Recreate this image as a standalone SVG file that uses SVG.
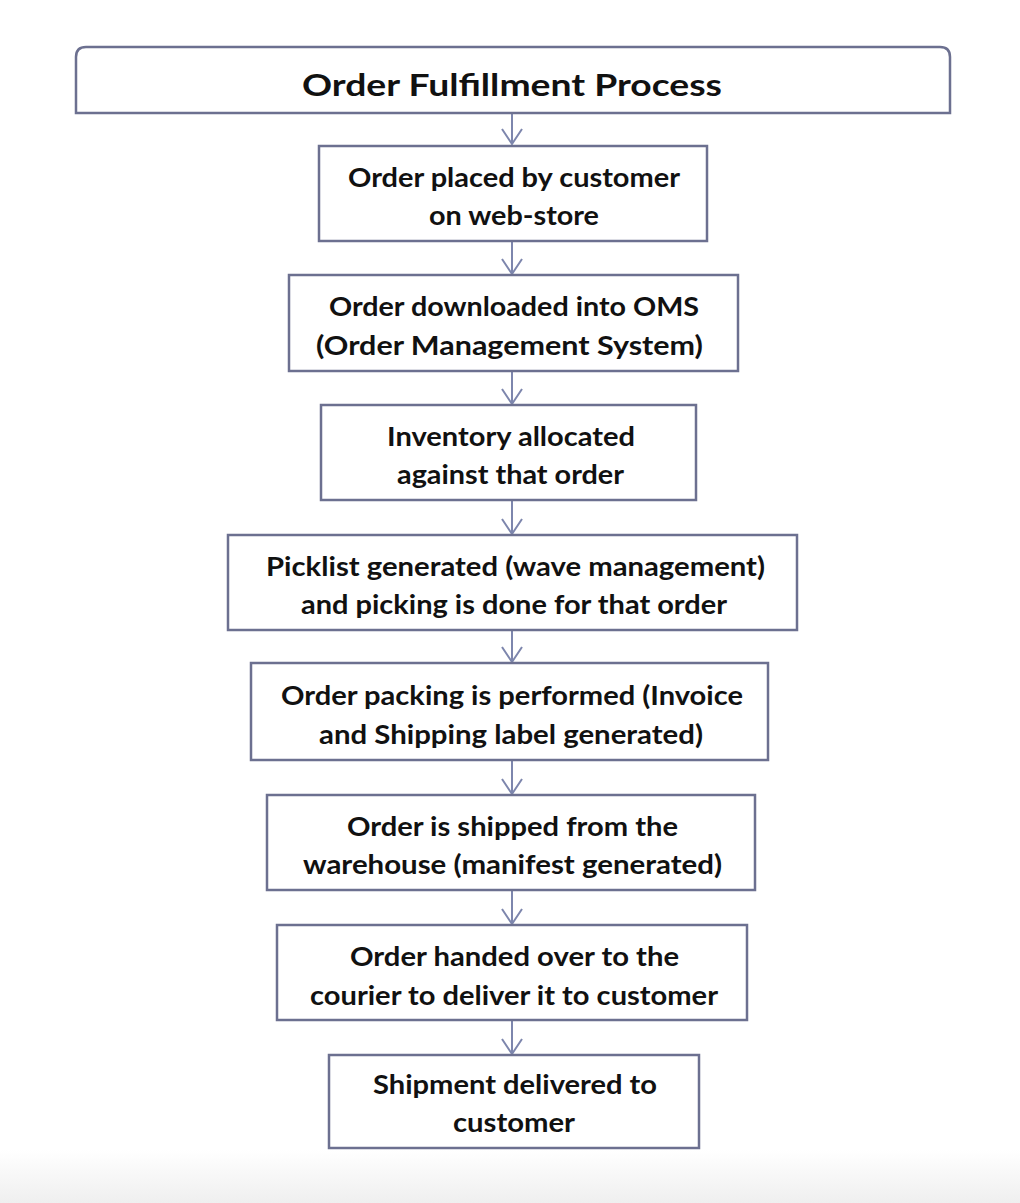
<svg xmlns="http://www.w3.org/2000/svg" width="1020" height="1203" viewBox="0 0 1020 1203">
  <defs>
    <linearGradient id="floor" x1="0" y1="0" x2="0" y2="1">
      <stop offset="0" stop-color="#ffffff"/>
      <stop offset="1" stop-color="#efefef"/>
    </linearGradient>
    <!-- open chevron head, drawn along +x so orient="auto" turns it down the line -->
    <marker id="vee" markerWidth="18" markerHeight="24" refX="16" refY="11" orient="auto" markerUnits="userSpaceOnUse" viewBox="0 0 18 22">
      <path d="M1,1 L16,11 L1,21" fill="none" stroke="#7d86ad" stroke-width="2"/>
    </marker>
    <style>
      .box { fill: #ffffff; stroke: #6c7090; stroke-width: 2.5; }
      .lbl { font-family: Lato, "Open Sans", "Liberation Sans", sans-serif; font-weight: 700; font-size: 27px; fill: #111111; text-anchor: start; }
      .title { font-size: 31px; }
      .link { stroke: #7d86ad; stroke-width: 2; fill: none; }
    </style>
  </defs>

  <rect x="0" y="0" width="1020" height="1203" fill="#ffffff"/>
  <rect x="0" y="1150" width="1020" height="53" fill="url(#floor)"/>

  <!-- connectors -->
  <g id="connectors">
    <line class="link" x1="512" y1="114" x2="512" y2="144" marker-end="url(#vee)"/>
    <line class="link" x1="512" y1="242" x2="512" y2="274" marker-end="url(#vee)"/>
    <line class="link" x1="512" y1="372" x2="512" y2="404" marker-end="url(#vee)"/>
    <line class="link" x1="512" y1="501" x2="512" y2="534" marker-end="url(#vee)"/>
    <line class="link" x1="512" y1="631" x2="512" y2="662" marker-end="url(#vee)"/>
    <line class="link" x1="512" y1="761" x2="512" y2="794" marker-end="url(#vee)"/>
    <line class="link" x1="512" y1="891" x2="512" y2="924" marker-end="url(#vee)"/>
    <line class="link" x1="512" y1="1021" x2="512" y2="1054" marker-end="url(#vee)"/>
  </g>

  <g id="title">
    <path class="box" d="M76,113 L76,57 Q76,47 86,47 L940,47 Q950,47 950,57 L950,113 Z"/>
    <text class="lbl title" x="302" y="96" textLength="420" lengthAdjust="spacingAndGlyphs">Order Fulfillment Process</text>
  </g>

  <g id="step-1">
    <rect class="box" x="319" y="146" width="388" height="95"/>
    <text class="lbl" x="348" y="187" textLength="332" lengthAdjust="spacingAndGlyphs">Order placed by customer</text>
    <text class="lbl" x="429" y="225" textLength="170" lengthAdjust="spacingAndGlyphs">on web-store</text>
  </g>

  <g id="step-2">
    <rect class="box" x="289" y="275" width="449" height="96"/>
    <text class="lbl" x="329" y="316" textLength="370" lengthAdjust="spacingAndGlyphs">Order downloaded into OMS</text>
    <text class="lbl" x="316" y="355" textLength="387" lengthAdjust="spacingAndGlyphs">(Order Management System)</text>
  </g>

  <g id="step-3">
    <rect class="box" x="321" y="405" width="375" height="95"/>
    <text class="lbl" x="387" y="446" textLength="248" lengthAdjust="spacingAndGlyphs">Inventory allocated</text>
    <text class="lbl" x="397" y="484" textLength="227" lengthAdjust="spacingAndGlyphs">against that order</text>
  </g>

  <g id="step-4">
    <rect class="box" x="228" y="535" width="569" height="95"/>
    <text class="lbl" x="266" y="576" textLength="499" lengthAdjust="spacingAndGlyphs">Picklist generated (wave management)</text>
    <text class="lbl" x="301" y="614" textLength="426" lengthAdjust="spacingAndGlyphs">and picking is done for that order</text>
  </g>

  <g id="step-5">
    <rect class="box" x="251" y="663" width="517" height="97"/>
    <text class="lbl" x="281" y="705" textLength="462" lengthAdjust="spacingAndGlyphs">Order packing is performed (Invoice</text>
    <text class="lbl" x="319" y="744" textLength="384" lengthAdjust="spacingAndGlyphs">and Shipping label generated)</text>
  </g>

  <g id="step-6">
    <rect class="box" x="267" y="795" width="488" height="95"/>
    <text class="lbl" x="347" y="836" textLength="331" lengthAdjust="spacingAndGlyphs">Order is shipped from the</text>
    <text class="lbl" x="303" y="874" textLength="419" lengthAdjust="spacingAndGlyphs">warehouse (manifest generated)</text>
  </g>

  <g id="step-7">
    <rect class="box" x="277" y="925" width="470" height="95"/>
    <text class="lbl" x="350" y="966" textLength="329" lengthAdjust="spacingAndGlyphs">Order handed over to the</text>
    <text class="lbl" x="310" y="1005" textLength="408" lengthAdjust="spacingAndGlyphs">courier to deliver it to customer</text>
  </g>

  <g id="step-8">
    <rect class="box" x="329" y="1055" width="370" height="93"/>
    <text class="lbl" x="373" y="1094" textLength="284" lengthAdjust="spacingAndGlyphs">Shipment delivered to</text>
    <text class="lbl" x="453" y="1132" textLength="122" lengthAdjust="spacingAndGlyphs">customer</text>
  </g>
</svg>
